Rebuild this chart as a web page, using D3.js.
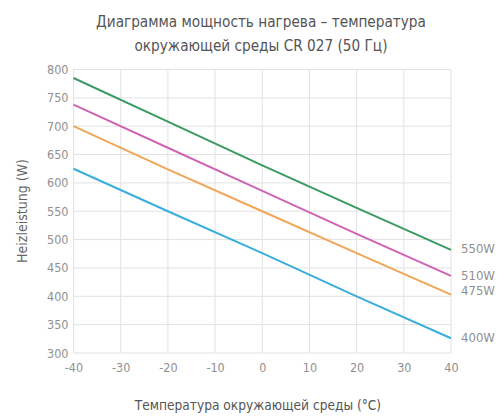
<!DOCTYPE html>
<html><head><meta charset="utf-8">
<script src="https://cdn.jsdelivr.net/npm/d3@7"></script>
<style>
body{margin:0;background:#fff;}
text{font-family:"DejaVu Sans Condensed","Liberation Sans Narrow",sans-serif;}
</style></head>
<body><svg id="c" width="500" height="416"></svg>
<script>
const temps = [-40, -20, 0, 20, 40];
const series550 = [785, 708, 631, 556, 482];
const series510 = [738, 662, 586, 510, 436];
const series475 = [700, 624, 550, 476, 403];
const series400 = [625, 550, 476, 400, 326];
const seriesLabels = ["550W", "510W", "475W", "400W"];
const seriesColors = ["#3a9a62", "#d064b4", "#f0a658", "#3aaedc"];
const xTicks = [-40, -30, -20, -10, 0, 10, 20, 30, 40];
const yTicks = [300, 350, 400, 450, 500, 550, 600, 650, 700, 750, 800];
const titleLines = ["Диаграмма мощность нагрева – температура", "окружающей среды CR 027 (50 Гц)"];
const xTitle = "Температура окружающей среды (°C)";
const yTitle = "Heizleistung (W)";

const allSeries = [series550, series510, series475, series400];
const labelY = [248, 275, 290, 337];

const svg = d3.select("#c");
const x = d3.scaleLinear().domain([-40, 40]).range([73.5, 451]);
const y = d3.scaleLinear().domain([300, 800]).range([353, 69.5]);

// grid
svg.append("g").selectAll("line").data(xTicks).join("line")
  .attr("x1", d => x(d)).attr("x2", d => x(d)).attr("y1", y(800)).attr("y2", y(300))
  .attr("stroke", "#e2e2e2").attr("stroke-width", 1);
svg.append("g").selectAll("line").data(yTicks).join("line")
  .attr("x1", x(-40)).attr("x2", x(40)).attr("y1", d => y(d)).attr("y2", d => y(d))
  .attr("stroke", "#e2e2e2").attr("stroke-width", 1);

// axes labels via d3 axes
const xAxis = svg.append("g").attr("transform", `translate(0,${y(300)})`)
  .call(d3.axisBottom(x).tickValues(xTicks).tickSize(0).tickPadding(10).tickFormat(d => String(d)));
const yAxis = svg.append("g").attr("transform", `translate(${x(-40)},0)`)
  .call(d3.axisLeft(y).tickValues(yTicks).tickSize(0).tickPadding(5).tickFormat(d => String(d)));
[xAxis, yAxis].forEach(a => {
  a.select(".domain").remove();
  a.selectAll("text").attr("fill", "#909090").attr("font-size", 12.5)
   .style("font-family", '"DejaVu Sans Condensed","Liberation Sans Narrow",sans-serif');
});

// lines
const line = d3.line().x((d, i) => x(temps[i])).y(d => y(d));
svg.append("g").selectAll("path").data(allSeries).join("path")
  .attr("d", d => line(d)).attr("fill", "none")
  .attr("stroke", (d, i) => seriesColors[i]).attr("stroke-width", 2);

// right labels
svg.append("g").selectAll("text").data(seriesLabels).join("text")
  .attr("x", 461).attr("y", (d, i) => labelY[i]).attr("dy", "0.35em")
  .attr("fill", "#909090").attr("font-size", 13).text(d => d);

// title
svg.append("g").selectAll("text").data(titleLines).join("text")
  .attr("x", 261).attr("y", (d, i) => 27 + i * 24).attr("text-anchor", "middle")
  .attr("fill", "#555").attr("font-size", 15.2).text(d => d);

// axis titles
svg.append("text").attr("x", 258).attr("y", 410).attr("text-anchor", "middle")
  .attr("fill", "#555").attr("font-size", 13.6).text(xTitle);
svg.append("text").attr("transform", "translate(27,211) rotate(-90)")
  .attr("text-anchor", "middle").attr("fill", "#666").attr("font-size", 14).text(yTitle);
</script></body></html>
